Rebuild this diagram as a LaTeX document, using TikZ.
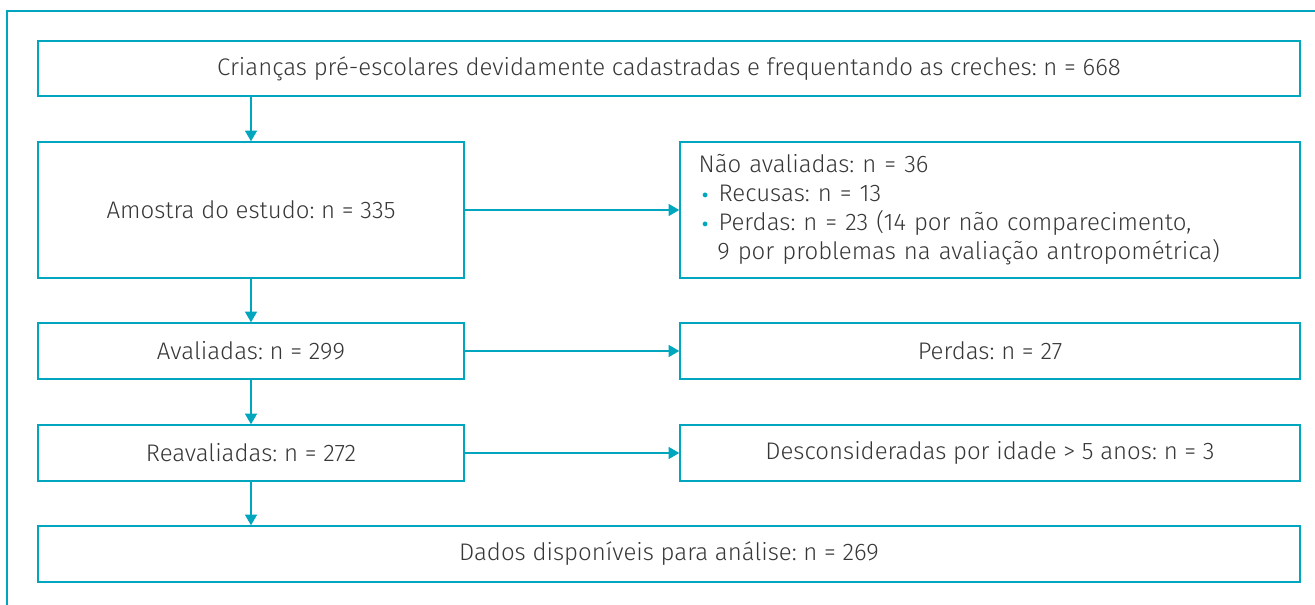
\documentclass[tikz,border=0pt]{standalone}
\usepackage{fontspec}
\setmainfont{Fira Sans}[UprightFont=* Light]
\usetikzlibrary{arrows.meta}
\frenchspacing

\definecolor{flow}{RGB}{0,166,190}
\definecolor{ink}{RGB}{55,55,55}
\newcommand\bul{\makebox[15pt][l]{\hspace{1.5pt}\smash{\raisebox{-3.2pt}{\textcolor{flow}{\fontsize{24pt}{21.75pt}\selectfont •}}}}}

\tikzset{
  box/.style={draw=flow, line width=1.1pt, text=ink, inner sep=0pt,
    minimum height=42pt, font=\fontsize{18pt}{21.75pt}\selectfont},
  wide/.style={box, minimum width=946.5pt},
  narrow/.style={box, minimum width=319.5pt},
  side/.style={box, minimum width=465pt},
  arr/.style={draw=flow, line width=1.1pt, -{Triangle[length=8pt,width=9pt]}}
}

\begin{document}
\begin{tikzpicture}[x=0.75pt,y=-0.75pt]
\useasboundingbox (0,0) rectangle (1315,605);

\draw[flow, line width=1.1pt] (7,605) -- (7,11) -- (1315,11);

\node[wide, minimum height=41.25pt] (b1) at (669,68.5) {Crianças pré-escolares devidamente cadastradas e frequentando as creches: n = 668};
\node[narrow, minimum height=102pt] (b2) at (251,210) {Amostra do estudo: n = 335};
\node[side, minimum height=102pt, text width=437pt, inner xsep=14pt, align=left] (r2) at (990,210)
  {Não avaliadas: n = 36\\
   \bul Recusas: n = 13\\
   \bul Perdas: n = 23 (14 por não comparecimento,\\
   \hspace*{14pt}9 por problemas na avaliação antropométrica)};
\node[narrow] (b3) at (251,351) {Avaliadas: n = 299};
\node[side] (r3) at (990,351) {Perdas: n = 27};
\node[narrow] (b4) at (251,453) {Reavaliadas: n = 272};
\node[side] (r4) at (990,453) {Desconsideradas por idade > 5 anos: n = 3};
\node[wide] (b5) at (669,554) {Dados disponíveis para análise: n = 269};

\foreach \i/\j in {b1/b2, b2/b3, b3/b4, b4/b5}
    \draw[arr] (\i.south -| b2) -- (\j.north -| b2);

\foreach \i in {2,3,4}
    \draw[arr] (b\i.east) -- (r\i.west);

\end{tikzpicture}
\end{document}
